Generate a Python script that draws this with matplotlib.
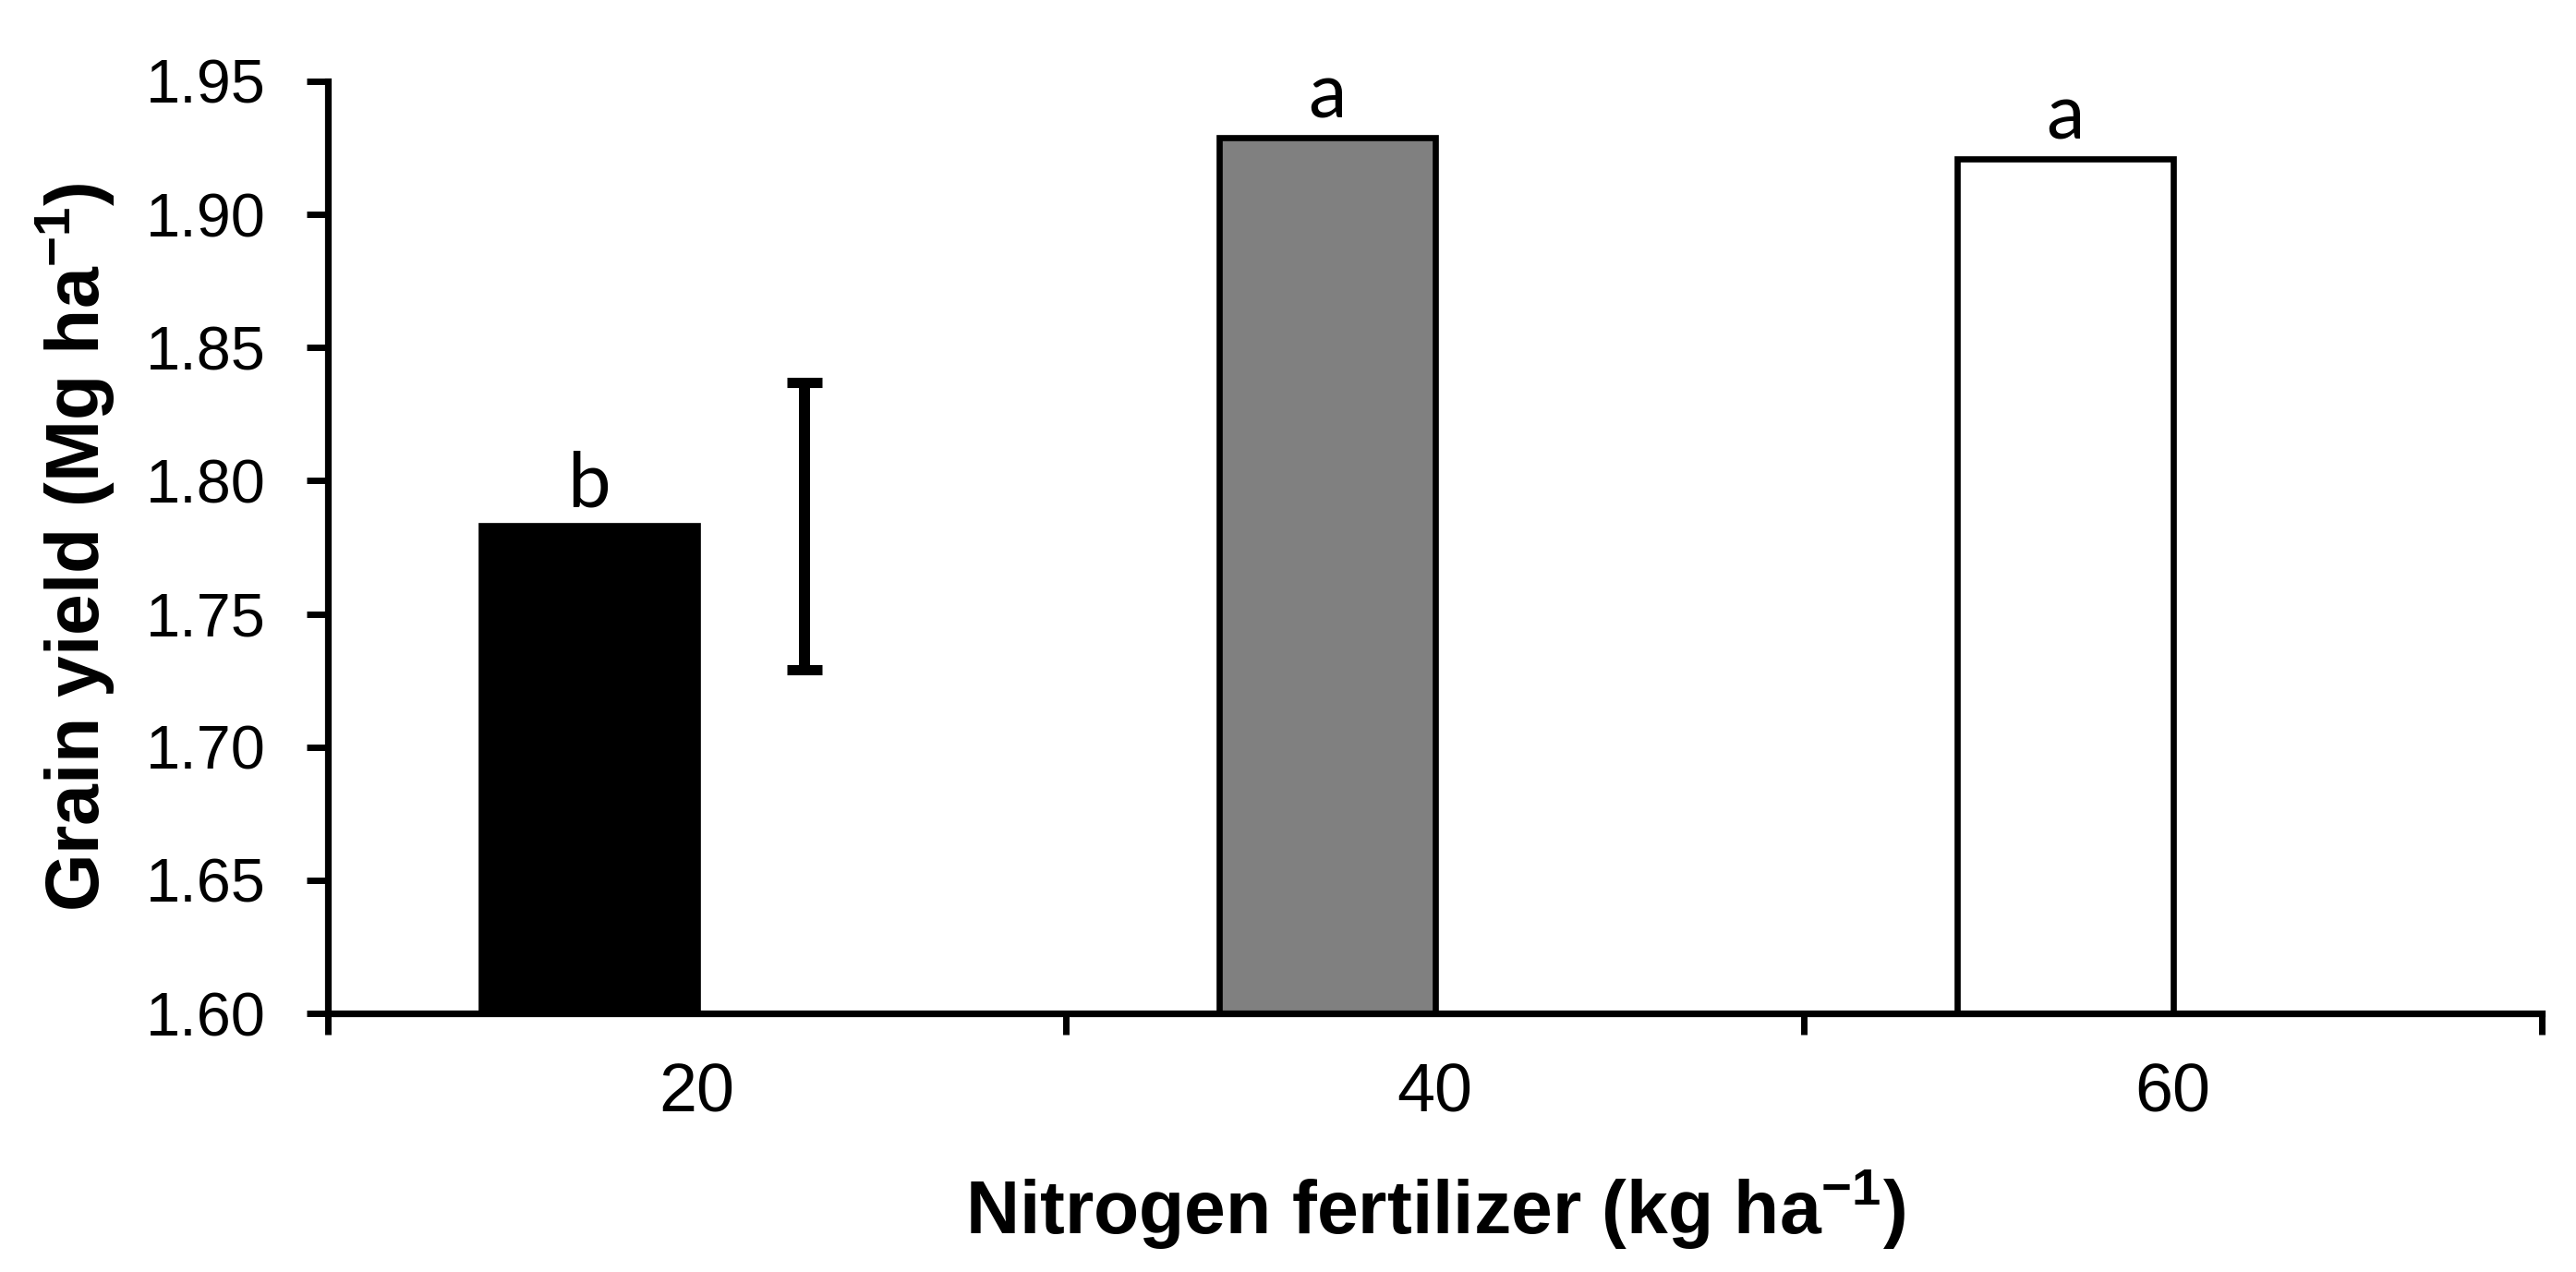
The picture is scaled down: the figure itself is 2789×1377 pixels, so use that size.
import numpy as np
import matplotlib
matplotlib.use('Agg')
import matplotlib.pyplot as plt

plt.rcParams['font.family'] = ['Liberation Sans', 'DejaVu Sans']
plt.rcParams['mathtext.fontset'] = 'custom'
plt.rcParams['mathtext.rm'] = 'Liberation Sans'
plt.rcParams['mathtext.bf'] = 'Liberation Sans:bold'

# Data
nitrogen_rates = ['20', '40', '60']
grain_yield = [1.783, 1.929, 1.921]
letters = ['b', 'a', 'a']
bar_colors = ['#000000', '#808080', '#ffffff']
lsd_value = 0.108  # LSD bar shown next to the first bar

fig = plt.figure(figsize=(2789 / 200, 1377 / 200), dpi=200)
ax = fig.add_axes([0.1273, 0.2033, 0.9867 - 0.1273, 0.9361 - 0.2033])

x = np.arange(len(nitrogen_rates))
bar_w = 0.2925
offset = 0.146

ax.bar(x - offset, grain_yield, width=bar_w, bottom=0, color=bar_colors,
       edgecolor='black', linewidth=2.4, zorder=2)

for xi, yi, lab in zip(x, grain_yield, letters):
    ax.text(xi - offset, yi + 0.002, lab, ha='center', va='bottom',
            fontsize=30, family=['Lato', 'DejaVu Sans'])

# LSD error bar
ax.errorbar(x[0] + offset, grain_yield[0], yerr=lsd_value / 2, fmt='none',
            ecolor='black', elinewidth=4.3, capsize=6.8, capthick=4.0, zorder=3)

ax.set_ylim(1.60, 1.95)
ax.set_yticks(np.arange(1.60, 1.951, 0.05))
ax.set_yticklabels([f'{v:.2f}' for v in np.arange(1.60, 1.951, 0.05)])
ax.set_xlim(-0.5, 2.5)
ax.set_xticks([-0.5, 0.5, 1.5, 2.5])
ax.set_xticklabels([])
ax.set_xticks(x, minor=True)
ax.set_xticklabels(nitrogen_rates, minor=True)

for side in ['top', 'right']:
    ax.spines[side].set_visible(False)
for side in ['left', 'bottom']:
    ax.spines[side].set_linewidth(2.6)

ax.tick_params(axis='y', which='major', direction='out', length=8.3, width=2.5,
               labelsize=24, pad=16)
ax.tick_params(axis='x', which='major', direction='out', length=8.3, width=2.5)
ax.tick_params(axis='x', which='minor', length=0, labelsize=26.5, pad=19)

ax.set_xlabel(r'Nitrogen fertilizer (kg ha$^{\mathbf{-1}}$)', fontsize=29,
              fontweight='bold', labelpad=16)
ax.set_ylabel(r'Grain yield (Mg ha$^{\mathbf{-1}}$)', fontsize=29,
              fontweight='bold', labelpad=11)

fig.savefig('out.png', dpi=200)
